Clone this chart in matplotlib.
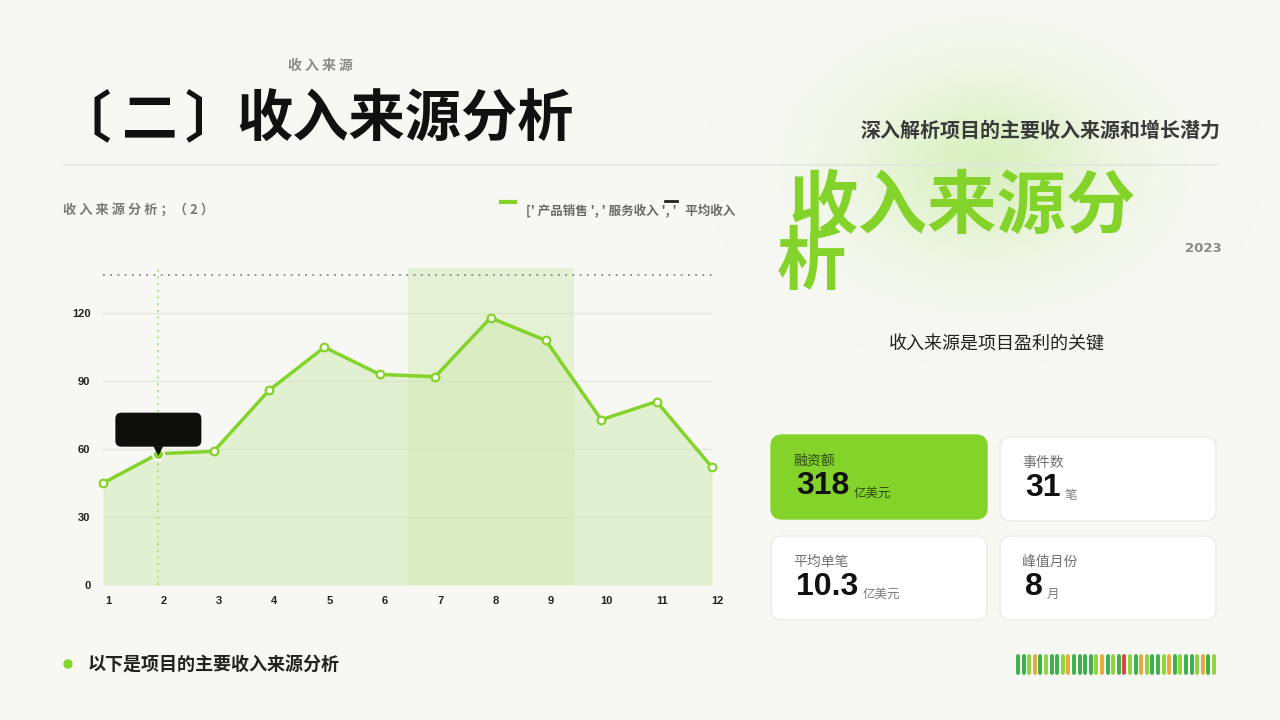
import numpy as np
import matplotlib
matplotlib.use("Agg")
import matplotlib.pyplot as plt
from matplotlib.patches import FancyBboxPatch, Polygon, Circle
from matplotlib.transforms import ScaledTranslation

plt.rcParams['font.family'] = ['Noto Sans CJK SC', 'DejaVu Sans']

# data
months = [1, 2, 3, 4, 5, 6, 7, 8, 9, 10, 11, 12]
revenue = [45, 58, 59, 86, 105, 93, 92, 118, 108, 73, 81, 52]
yticks = [0, 30, 60, 90, 120]
ref_line = 137
band = (6.5, 9.5)
focus_month = 2

card_labels = ['融资额', '事件数', '平均单笔', '峰值月份']
card_values = ['318', '31', '10.3', '8']
card_units = ['亿美元', '笔', '亿美元', '月']

bar_colors = ['d', 'd', 'l', 'o', 'd', 'l', 'd', 'd', 'l', 'o', 'd', 'd',
              'd', 'd', 'l', 'o', 'd', 'l', 'd', 'r', 'l', 'd', 'o', 'l',
              'd', 'd', 'l', 'o', 'd', 'l', 'd', 'd', 'l', 'o', 'd', 'l']
palette = {'d': '#3cb04a', 'l': '#8fd43a', 'o': '#eba83e', 'r': '#e0413a'}

GREEN = '#84d32a'
BG = '#f7f8f3'

fig = plt.figure(figsize=(12.8, 7.2), dpi=100, facecolor=BG)

# background layer in pixel coords
bg = fig.add_axes([0, 0, 1, 1], zorder=0)
bg.set_xlim(0, 1280)
bg.set_ylim(720, 0)
bg.axis('off')

# soft green glow top right
gx, gy = np.meshgrid(np.linspace(0, 1280, 320), np.linspace(0, 720, 180))
g = np.exp(-(((gx - 985) / 125) ** 2 + ((gy - 165) / 90) ** 2))
rgba = np.zeros(gx.shape + (4,))
rgba[..., 0] = 0.80
rgba[..., 1] = 0.93
rgba[..., 2] = 0.66
rgba[..., 3] = g * 0.65
bg.imshow(rgba, extent=(0, 1280, 720, 0), aspect='auto', zorder=0, interpolation='bilinear')

# header
bg.text(320, 66, '收 入 来 源', fontsize=10, color='#8a8a8a', ha='center', va='center', weight='bold')
bg.text(55, 120, '〔', fontsize=40, color='#111111', ha='left', va='center', weight='bold')
bg.text(150, 120, '二', fontsize=40, color='#111111', ha='center', va='center', weight='bold')
bg.text(185, 120, '〕', fontsize=40, color='#111111', ha='left', va='center', weight='bold')
bg.text(236, 120, '收入来源分析', fontsize=40.5, color='#111111', ha='left', va='center', weight='bold')
bg.text(1220, 130, '深入解析项目的主要收入来源和增长潜力', fontsize=14.4, color='#3a3a3a',
        ha='right', va='center', weight='bold')
bg.plot([63, 1217], [165, 165], color='#e3e5e0', lw=1.2, zorder=1)

# big green title
bg.text(789, 208, '收入来源分', fontsize=50, color=GREEN, ha='left', va='center', weight='bold', zorder=3)
bg.text(777, 264, '析', fontsize=50, color=GREEN, ha='left', va='center', weight='bold', zorder=3)
bg.text(1222, 249, '2023', fontsize=9.5, color='#8a8a8a', ha='right', va='center', weight='bold',
        family=['DejaVu Sans'])
bg.text(997, 345, '收入来源是项目盈利的关键', fontsize=13, color='#222222', ha='center', va='center')

# chart header and legend
bg.text(63, 210, '收 入 来 源 分 析 ；（ 2 ）', fontsize=9.5, color='#7a7a7a', ha='left', va='center',
        weight='bold')
bg.plot([501, 515], [202, 202], color=GREEN, lw=3, zorder=2)
bg.text(735, 210, "[' 产品销售 ', ' 服务收入 ', '   平均收入", fontsize=9, color='#6a6a6a',
        ha='right', va='center', weight='bold')
bg.plot([665, 677], [201, 201], color='#222222', lw=2, zorder=2)

# cards
card_boxes = [(771, 435), (1000, 437), (771, 536), (1000, 536)]
for i, (cx, cy) in enumerate(card_boxes):
    first = i == 0
    box = FancyBboxPatch((cx, cy), 216, 84, boxstyle='round,pad=0,rounding_size=11',
                         facecolor=GREEN if first else '#ffffff',
                         edgecolor=GREEN if first else '#ebebea', lw=1, zorder=2)
    bg.add_patch(box)
    bg.text(cx + 22, cy + 26, card_labels[i], fontsize=10, ha='left', va='center',
            color='#2f4a12' if first else '#707070', zorder=3)
    val = bg.text(cx + 25, cy + 51, card_values[i], fontsize=23, ha='left', va='center',
                  weight='bold', color='#111111', family=['Liberation Sans', 'DejaVu Sans'], zorder=3)
    fig.canvas.draw()
    bb = val.get_window_extent().transformed(bg.transData.inverted())
    bg.text(bb.x1 + 4, cy + 58, card_units[i], fontsize=9, ha='left', va='center',
            color='#2f4a12' if first else '#7a7a7a', zorder=3)

# bottom bullet and barcode
bg.add_patch(Circle((68, 664), 4, color=GREEN, zorder=3))
bg.text(88, 665, '以下是项目的主要收入来源分析', fontsize=13, color='#222222', ha='left', va='center',
        weight='bold')
for i, c in enumerate(bar_colors):
    bx = 1018 + i * 5.6
    bg.plot([bx, bx], [656, 673], color=palette[c], lw=2.8, solid_capstyle='round', zorder=2)

# line chart
ax = fig.add_axes([103 / 1280, 1 - 585 / 720, 609 / 1280, 317 / 720], zorder=2)
ax.patch.set_alpha(0)
ax.set_xlim(1, 12)
ax.set_ylim(0, 140)
for s in ax.spines.values():
    s.set_visible(False)
ax.set_yticks(yticks)
ax.set_xticks(months)
ax.tick_params(length=0, labelsize=8, labelcolor='#222222')
ax.tick_params(axis='y', pad=9)
ax.tick_params(axis='x', pad=8)
shift = ScaledTranslation(5 / 100, 0, fig.dpi_scale_trans)
for lab in ax.get_xticklabels():
    lab.set_transform(lab.get_transform() + shift)
for lab in ax.get_xticklabels() + ax.get_yticklabels():
    lab.set_fontweight('bold')
    lab.set_family(['Liberation Sans', 'DejaVu Sans'])
ax.grid(axis='y', color='#e4e6e0', lw=1)
ax.set_axisbelow(True)

ax.axvspan(band[0], band[1], color='#cfeab0', alpha=0.45, lw=0, zorder=1)
ax.fill_between(months, revenue, 0, color='#cfe9b2', alpha=0.5, lw=0, zorder=2)
ax.axhline(ref_line, color='#888888', ls=(0, (1, 3)), lw=1.3, zorder=3)
ax.axvline(focus_month, color='#9ad85a', ls=(0, (1, 3)), lw=1.2, zorder=3)
ax.plot(months, revenue, color=GREEN, lw=2.5, zorder=4, clip_on=False)
ax.plot(months, revenue, 'o', ms=5.5, mfc='white', mec=GREEN, mew=1.6, zorder=5, clip_on=False)
fv = revenue[months.index(focus_month)]
ax.plot([focus_month], [fv], 'o', ms=8, mfc=GREEN, mec='white', mew=1.5, zorder=6)

# tooltip
tr = fig.dpi_scale_trans + ScaledTranslation(focus_month, fv, ax.transData)
tip = FancyBboxPatch((-0.43, 0.07), 0.86, 0.34, boxstyle='round,pad=0,rounding_size=0.06',
                     facecolor='#0e0f0c', edgecolor='none', transform=tr, zorder=7, clip_on=False)
ax.add_patch(tip)
ax.add_patch(Polygon([(-0.05, 0.075), (0.05, 0.075), (0, -0.02)], closed=True,
                     facecolor='#0e0f0c', edgecolor='none', transform=tr, zorder=7, clip_on=False))

fig.savefig('out.png', dpi=100, facecolor=BG)
